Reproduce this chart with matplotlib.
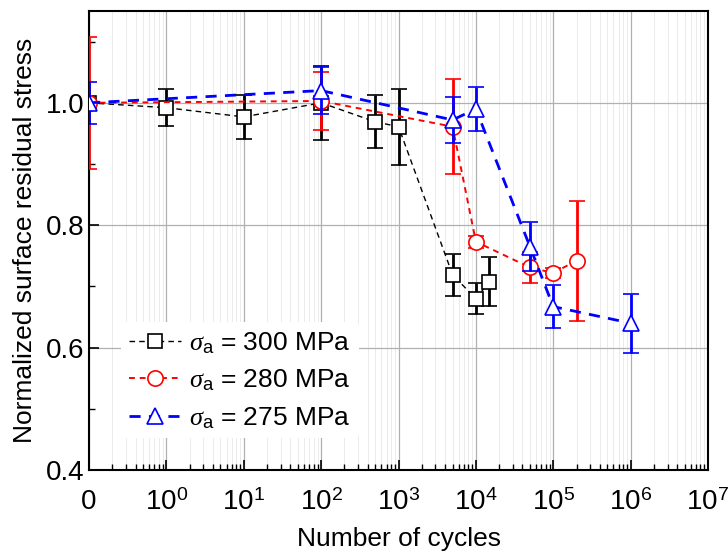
import numpy as np
import matplotlib
matplotlib.use("Agg")
import matplotlib.pyplot as plt
from matplotlib.lines import Line2D
from matplotlib.ticker import FixedLocator, FuncFormatter, LogLocator, MultipleLocator

plt.rcParams['font.family'] = ['Liberation Sans', 'DejaVu Sans']
plt.rcParams['mathtext.fontset'] = 'custom'
plt.rcParams['mathtext.rm'] = 'Liberation Sans'
plt.rcParams['mathtext.it'] = 'Liberation Serif:italic'

# cycle count 0 is drawn at the left edge of the log axis (0.1)
ZERO = 0.1

# sigma_a = 300 MPa
cyc_300 = [ZERO, 1, 10, 100, 500, 1000, 5000, 10000, 15000]
val_300 = [1.0, 0.992, 0.977, 1.0, 0.969, 0.961, 0.719, 0.680, 0.708]
err_300 = [0.0, 0.030, 0.036, 0.060, 0.043, 0.062, 0.034, 0.025, 0.040]

# sigma_a = 280 MPa
cyc_280 = [ZERO, 100, 5000, 10000, 50000, 100000, 200000]
val_280 = [1.0, 1.003, 0.961, 0.773, 0.731, 0.722, 0.742]
err_280 = [0.108, 0.048, 0.078, 0.010, 0.025, 0.008, 0.098]

# sigma_a = 275 MPa
cyc_275 = [ZERO, 100, 5000, 10000, 50000, 100000, 1000000]
val_275 = [1.0, 1.020, 0.972, 0.990, 0.765, 0.667, 0.640]
err_275 = [0.034, 0.038, 0.038, 0.036, 0.040, 0.035, 0.048]

labels = [r'$\sigma_\mathrm{a}$ = 300 MPa', r'$\sigma_\mathrm{a}$ = 280 MPa',
          r'$\sigma_\mathrm{a}$ = 275 MPa']

styles = [
    dict(color='black', ls=(0, (4, 3)), lw=1.0, marker='s', ms=10, mec='black'),
    dict(color='red', ls=(0, (3, 2.5)), lw=1.4, marker='o', ms=11, mec='red'),
    dict(color='blue', ls=(0, (4, 3)), lw=2.0, marker='^', ms=12, mec='blue'),
]

fig = plt.figure(figsize=(7.28, 5.51), dpi=100)
ax = fig.add_axes([0.1223, 0.147, 0.8502, 0.833])

series = [(cyc_300, val_300, err_300), (cyc_280, val_280, err_280),
          (cyc_275, val_275, err_275)]
handles = []
for i, (x, y, e) in enumerate(series):
    st = styles[i]
    ax.errorbar(x, y, yerr=e, mfc='white', mew=1.2, ecolor=st['color'],
                elinewidth=2, capsize=6, capthick=2, zorder=3 + i, **st)
    handles.append(Line2D([], [], mfc='white', mew=1.2, label=labels[i], **st))

ax.set_xscale('log')
ax.set_xlim(0.1, 1e7)
ax.set_ylim(0.4, 1.15)

majors = [0.1, 1, 10, 1e2, 1e3, 1e4, 1e5, 1e6, 1e7]
ax.xaxis.set_major_locator(FixedLocator(majors))
ax.xaxis.set_major_formatter(FuncFormatter(
    lambda v, p: '0' if v < 0.5 else r'$10^{%d}$' % round(np.log10(v))))
ax.xaxis.set_minor_locator(LogLocator(base=10, subs=np.arange(2, 10), numticks=20))
ax.yaxis.set_major_locator(FixedLocator([0.4, 0.6, 0.8, 1.0]))
ax.yaxis.set_major_formatter(FuncFormatter(lambda v, p: '%.1f' % v))
ax.yaxis.set_minor_locator(MultipleLocator(0.1))

ax.grid(which='major', color='#b0b0b0', lw=0.9)
ax.grid(which='minor', axis='x', color='#ebebeb', lw=0.7)
ax.set_axisbelow(True)

ax.tick_params(which='both', direction='in', labelsize=20)
ax.tick_params(which='major', length=7, width=1.2, top=False, right=False)
ax.tick_params(which='minor', length=4, width=1.0, top=False, right=False)
ax.tick_params(axis='x', pad=14)
for s in ax.spines.values():
    s.set_linewidth(1.5)

ax.set_xlabel('Number of cycles', fontsize=19, labelpad=8)
ax.set_ylabel('Normalized surface residual stress', fontsize=19, labelpad=6)

ax.legend(handles=handles, loc='lower left', bbox_to_anchor=(0.03, 0.04), fontsize=19,
          frameon=True, framealpha=1, edgecolor='none', facecolor='white',
          numpoints=1, handlelength=2.0, borderpad=0.3, labelspacing=0.45,
          handletextpad=0.3)

fig.savefig('out.png', dpi=100)
